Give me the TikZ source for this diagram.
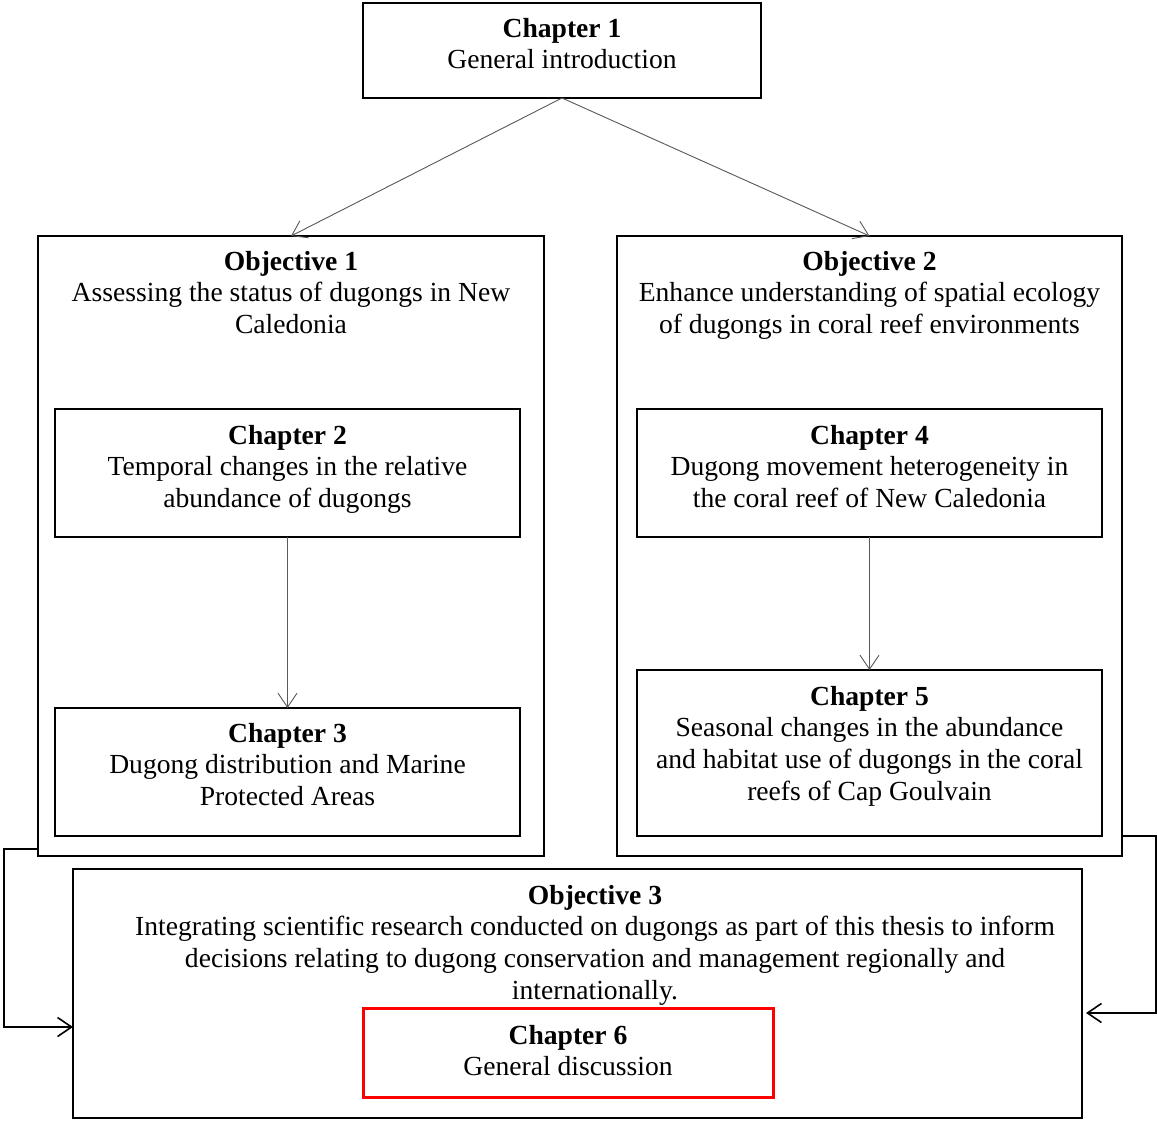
\documentclass[tikz,border=0pt]{standalone}
\usepackage{fontspec}
\setmainfont{Liberation Serif}
\usetikzlibrary{arrows.meta}
\begin{document}
\begin{tikzpicture}[x=1pt,y=-1pt,
  box/.style={draw=black,line width=1.5pt,rectangle,inner sep=0pt,outer sep=0pt},
  redbox/.style={draw=red,line width=3pt,rectangle,inner sep=0pt,outer sep=0pt},
  txt/.style={anchor=north,inner sep=0pt,align=center,font=\fontsize{27.6}{31.7}\selectfont},
  thinarrow/.style={draw=black!65,line width=0.9pt,-{Straight Barb[length=14pt,width=19pt,line width=0.9pt]}},
  conn/.style={draw=black,line width=1.6pt,-{Straight Barb[length=14pt,width=19pt,line width=1.6pt]}}
]
\useasboundingbox (0,0) rectangle (1157,1120);
\fill[white] (0,0) rectangle (1157,1120);

% boxes
\node[box,minimum width=398pt,minimum height=95pt] (ch1) at (562,50.5) {};
\node[box,minimum width=506pt,minimum height=620pt] (obj1) at (291,546) {};
\node[box,minimum width=505pt,minimum height=620pt] (obj2) at (869.5,546) {};
\node[box,minimum width=465pt,minimum height=128pt] (ch2) at (287.5,473) {};
\node[box,minimum width=465pt,minimum height=128pt] (ch3) at (287.5,772) {};
\node[box,minimum width=465pt,minimum height=128pt] (ch4) at (869.5,473) {};
\node[box,minimum width=465pt,minimum height=166pt] (ch5) at (869.5,753) {};
\node[box,minimum width=1009pt,minimum height=249pt] (obj3) at (577.5,993.5) {};
\node[redbox,minimum width=410pt,minimum height=89pt] (ch6) at (568,1052.5) {};

% texts (anchor north = first baseline - 22.19)
\node[txt] (t1) at (562,14.8) {\strut\textbf{Chapter 1}\\General introduction};
\node[txt] (to1) at (291,247.8) {\strut\textbf{Objective 1}\\Assessing the status of dugongs in New\\Caledonia};
\node[txt] (to2) at (869.5,247.8) {\strut\textbf{Objective 2}\\Enhance understanding of spatial ecology\\of dugongs in coral reef environments};
\node[txt] (t2) at (287.5,421.8) {\strut\textbf{Chapter 2}\\Temporal changes in the relative\\abundance of dugongs};
\node[txt] (t4) at (869.5,421.8) {\strut\textbf{Chapter 4}\\Dugong movement heterogeneity in\\the coral reef of New Caledonia};
\node[txt] (t3) at (287.5,719.8) {\strut\textbf{Chapter 3}\\Dugong distribution and Marine\\Protected Areas};
\node[txt] (t5) at (869.5,682.8) {\strut\textbf{Chapter 5}\\Seasonal changes in the abundance\\and habitat use of dugongs in the coral\\reefs of Cap Goulvain};
\node[txt] (to3) at (595,881.8) {\strut\textbf{Objective 3}\\Integrating scientific research conducted on dugongs as part of this thesis to inform\\decisions relating to dugong conservation and management regionally and\\internationally.};
\node[txt] (t6) at (568,1021.8) {\strut\textbf{Chapter 6}\\General discussion};

% connectors
\draw[thinarrow] (ch1.south) -- (obj1.north);
\draw[thinarrow] (ch1.south) -- (obj2.north);
\draw[thinarrow] (ch2.south) -- (ch3.north);
\draw[thinarrow] (ch4.south) -- (ch5.north);

\coordinate (lc) at (4,1027);
\coordinate (rc) at (1156,1013);
\draw[conn] (obj1.west |- 0,849) -| (lc) -- (obj3.west |- lc);
\draw[conn] (obj2.east |- 0,836) -| (rc) -- ([xshift=4pt]obj3.east |- rc);
\end{tikzpicture}
\end{document}
